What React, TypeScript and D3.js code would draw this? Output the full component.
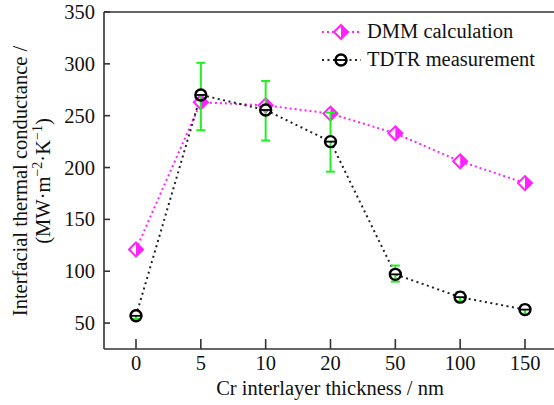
import React from "react";
import * as d3 from "d3";

const categories = ["0", "5", "10", "20", "50", "100", "150"];
const dmmValues = [121, 263, 260, 252, 233, 206, 185];
const tdtrValues = [57, 270, 255.5, 225, 97, 75, 63];
const tdtrLow = [54, 236, 226, 196, 90, 71, 59];
const tdtrHigh = [60, 301, 283.5, 253, 105.5, 80, 67];
const yTicks = [50, 100, 150, 200, 250, 300, 350];
const seriesNames = ["DMM calculation", "TDTR measurement"];

const W = 554;
const H = 405;
const left = 104;
const top = 12;
const bottom = 349;
const FONT = "Liberation Serif, Times New Roman, serif";
const MAG = "#ff22ff";
const GREEN = "#22ee22";
const AX = "#333";
const TS: React.CSSProperties = { fontFamily: FONT, fontSize: "20.5px" };

const x = d3.scalePoint<string>().domain(categories).range([136, 525]);
const y = d3.scaleLinear().domain([25, 350]).range([bottom, top]);

function Diamond({ cx, cy }: { cx: number; cy: number }) {
  const r = 7;
  return (
    <g>
      <path d={`M${cx},${cy - r} L${cx - r},${cy} L${cx},${cy + r} Z`} fill="white" />
      <path d={`M${cx},${cy - r} L${cx + r},${cy} L${cx},${cy + r} Z`} fill={MAG} />
      <path
        d={`M${cx},${cy - r} L${cx + r},${cy} L${cx},${cy + r} L${cx - r},${cy} Z`}
        fill="none"
        stroke={MAG}
        strokeWidth={2}
      />
    </g>
  );
}

function HalfCircle({ cx, cy }: { cx: number; cy: number }) {
  const r = 5.5;
  return (
    <g>
      <path d={`M${cx - r},${cy} A${r},${r} 0 0 1 ${cx + r},${cy} Z`} fill="white" />
      <circle cx={cx} cy={cy} r={r} fill="none" stroke="#000" strokeWidth={2.4} />
      <line x1={cx - r} x2={cx + r} y1={cy} y2={cy} stroke="#000" strokeWidth={1.8} />
    </g>
  );
}

export default function App() {
  const lineGen = d3
    .line<number>()
    .x((_, i) => x(categories[i]) as number)
    .y((d) => y(d));

  return (
    <svg
      width={W}
      height={H}
      style={{ position: "absolute", left: 0, top: 0, background: "white", fontFamily: FONT }}
    >
      <rect width={W} height={H} fill="white" />
      {/* frame */}
      <line x1={left} x2={left} y1={top} y2={bottom} stroke={AX} strokeWidth={1.6} />
      <line x1={left} x2={W} y1={top} y2={top} stroke={AX} strokeWidth={1.6} />
      <line x1={left} x2={W} y1={bottom} y2={bottom} stroke={AX} strokeWidth={1.6} />
      {/* y ticks */}
      {yTicks.map((t) => (
        <g key={t}>
          <line x1={left} x2={left + 6} y1={y(t)} y2={y(t)} stroke={AX} strokeWidth={1.6} />
          <text x={95} y={y(t) + 7} textAnchor="end" style={TS} fill="#111">
            {t}
          </text>
        </g>
      ))}
      {/* x ticks */}
      {categories.map((c) => (
        <g key={c}>
          <line x1={x(c)} x2={x(c)} y1={bottom} y2={bottom - 10} stroke={AX} strokeWidth={1.6} />
          <text x={x(c)} y={370} textAnchor="middle" style={TS} fill="#111">
            {c}
          </text>
        </g>
      ))}
      <text x={330} y={395} textAnchor="middle" style={TS} fill="#111">
        Cr interlayer thickness / nm
      </text>
      <g transform="translate(27,181) rotate(-90)">
        <text x={0} y={0} textAnchor="middle" style={TS} fill="#111">
          Interfacial thermal conductance /
        </text>
      </g>
      <g transform="translate(50,181) rotate(-90)">
        <text x={0} y={0} textAnchor="middle" style={TS} fill="#111">
          (MW·m
          <tspan style={{ fontSize: "14px" }} dy={-8}>−2</tspan>
          <tspan dy={8}>·K</tspan>
          <tspan style={{ fontSize: "14px" }} dy={-8}>−1</tspan>
          <tspan dy={8}>)</tspan>
        </text>
      </g>

      {/* DMM series */}
      <path d={lineGen(dmmValues) || ""} fill="none" stroke={MAG} strokeWidth={2} strokeDasharray="2,3" />
      {/* TDTR line */}
      <path d={lineGen(tdtrValues) || ""} fill="none" stroke="#222" strokeWidth={2} strokeDasharray="2,3.5" />
      {dmmValues.map((v, i) => (
        <Diamond key={i} cx={x(categories[i]) as number} cy={y(v)} />
      ))}
      {/* error bars */}
      {tdtrValues.map((_, i) => {
        const cx = x(categories[i]) as number;
        return (
          <g key={i} stroke={GREEN} strokeWidth={2}>
            <line x1={cx} x2={cx} y1={y(tdtrLow[i])} y2={y(tdtrHigh[i])} />
            <line x1={cx - 4.5} x2={cx + 4.5} y1={y(tdtrLow[i])} y2={y(tdtrLow[i])} />
            <line x1={cx - 4.5} x2={cx + 4.5} y1={y(tdtrHigh[i])} y2={y(tdtrHigh[i])} />
          </g>
        );
      })}
      {tdtrValues.map((v, i) => (
        <HalfCircle key={i} cx={x(categories[i]) as number} cy={y(v)} />
      ))}

      {/* legend */}
      <line x1={322} x2={361} y1={32} y2={32} stroke={MAG} strokeWidth={2} strokeDasharray="2,3" />
      <Diamond cx={341} cy={32} />
      <text x={367} y={38} style={TS} fill="#111">
        {seriesNames[0]}
      </text>
      <line x1={322} x2={361} y1={60} y2={60} stroke="#222" strokeWidth={2} strokeDasharray="2,3.5" />
      <HalfCircle cx={341} cy={60} />
      <text x={367} y={66} style={TS} fill="#111">
        {seriesNames[1]}
      </text>
    </svg>
  );
}
